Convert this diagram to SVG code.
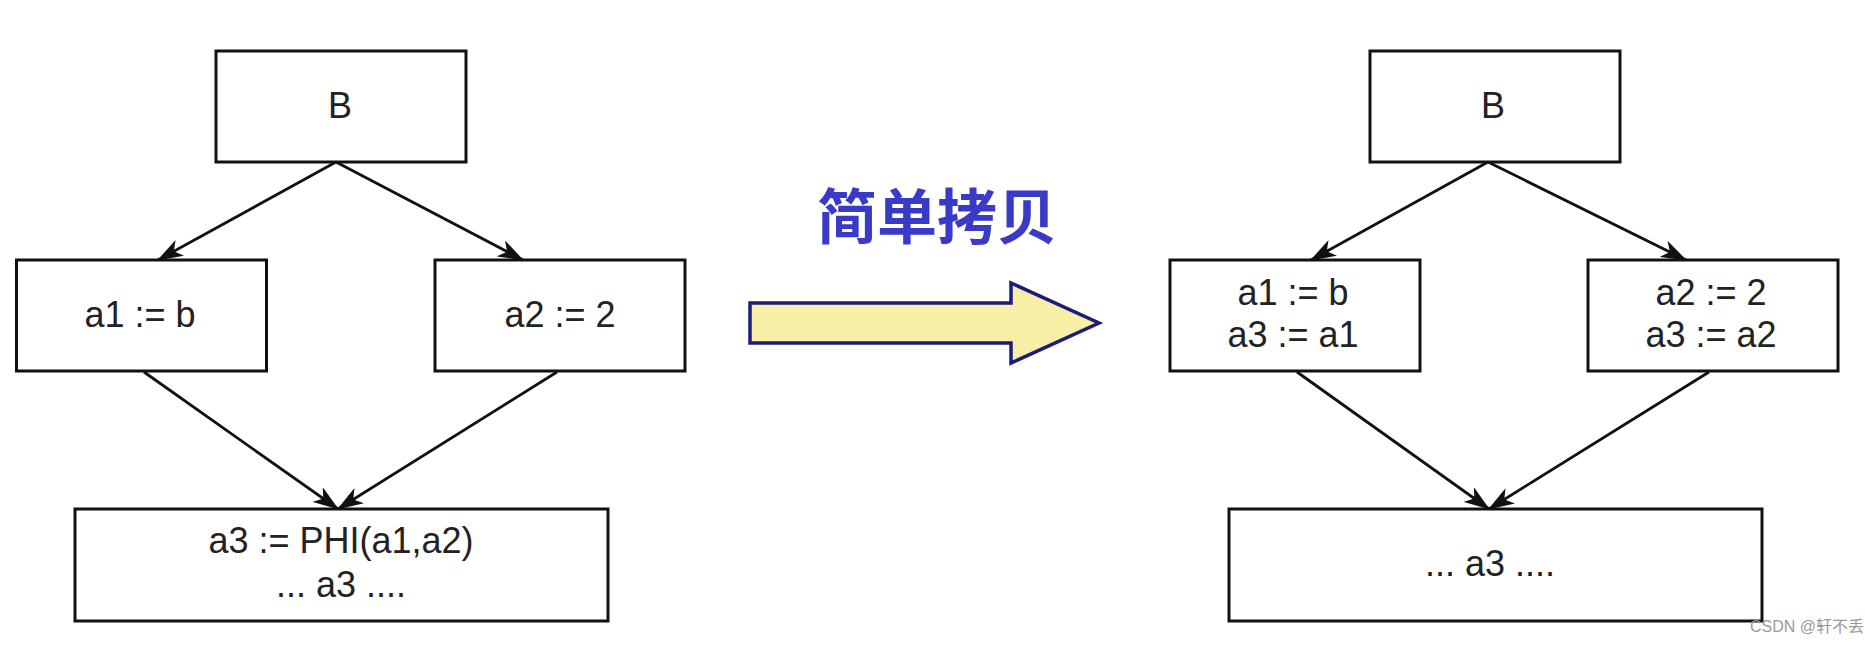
<svg xmlns="http://www.w3.org/2000/svg" width="1865" height="645" viewBox="0 0 1865 645">
  <style>
    .box { fill: #ffffff; stroke: #111111; stroke-width: 3; }
    .lbl { font-family: "Liberation Sans", Arial, sans-serif; font-size: 36px; fill: #222222; text-anchor: middle; }
    .edge { stroke: #111111; stroke-width: 2.8; fill: none; marker-end: url(#arr); }
    .title { font-family: "Noto Sans CJK SC", sans-serif; font-size: 60px; font-weight: 700; fill: #3a3ac8; text-anchor: middle; }
    .wm { font-family: "Liberation Sans", "Noto Sans CJK SC", sans-serif; font-size: 16px; fill: #9a9a9a; }
  </style>
  <defs>
    <marker id="arr" viewBox="0 0 26 18" refX="25" refY="9" markerWidth="26" markerHeight="18" markerUnits="userSpaceOnUse" orient="auto">
      <path d="M0,0 L26,9 L0,18 L7,9 Z" fill="#111111"/>
    </marker>
  </defs>
  <rect width="1865" height="645" fill="#ffffff"/>

  <g id="L-B"><rect class="box" x="216" y="51" width="250" height="111"/><text class="lbl" x="340" y="118">B</text></g>
  <g id="L-a1"><rect class="box" x="16.5" y="260" width="250" height="111"/><text class="lbl" x="140" y="327">a1 := b</text></g>
  <g id="L-a2"><rect class="box" x="435" y="260" width="250" height="111"/><text class="lbl" x="560" y="327">a2 := 2</text></g>
  <g id="L-bottom"><rect class="box" x="75" y="509" width="533" height="112"/><text class="lbl" x="341" y="553">a3 := PHI(a1,a2)</text><text class="lbl" x="341" y="597">... a3 ....</text></g>

  <g id="R-B"><rect class="box" x="1370" y="51" width="250" height="111"/><text class="lbl" x="1493" y="118">B</text></g>
  <g id="R-a1"><rect class="box" x="1170" y="260" width="250" height="111"/><text class="lbl" x="1293" y="305">a1 := b</text><text class="lbl" x="1293" y="347">a3 := a1</text></g>
  <g id="R-a2"><rect class="box" x="1588" y="260" width="250" height="111"/><text class="lbl" x="1711" y="305">a2 := 2</text><text class="lbl" x="1711" y="347">a3 := a2</text></g>
  <g id="R-bottom"><rect class="box" x="1229" y="509" width="533" height="112"/><text class="lbl" x="1490" y="576">... a3 ....</text></g>

  <g id="transform">
    <text class="title" x="937" y="239">简单拷贝</text>
    <path d="M750,303 L1011,303 L1011,283 L1099,323 L1011,363 L1011,343 L750,343 Z" fill="#f7efa6" stroke="#1c1c7c" stroke-width="3.5" stroke-linejoin="miter"/>
  </g>

  <g id="connectors">
    <line class="edge" x1="336" y1="162" x2="158" y2="260"/>
    <line class="edge" x1="336" y1="162" x2="523" y2="260"/>
    <line class="edge" x1="144" y1="372" x2="338" y2="509"/>
    <line class="edge" x1="557" y1="372" x2="338" y2="509"/>
    <line class="edge" x1="1488" y1="162" x2="1311" y2="260"/>
    <line class="edge" x1="1488" y1="162" x2="1686" y2="260"/>
    <line class="edge" x1="1297" y1="372" x2="1489" y2="509"/>
    <line class="edge" x1="1709" y1="372" x2="1489" y2="509"/>
  </g>

  <text class="wm" x="1750" y="632">CSDN @轩不丢</text>
</svg>
